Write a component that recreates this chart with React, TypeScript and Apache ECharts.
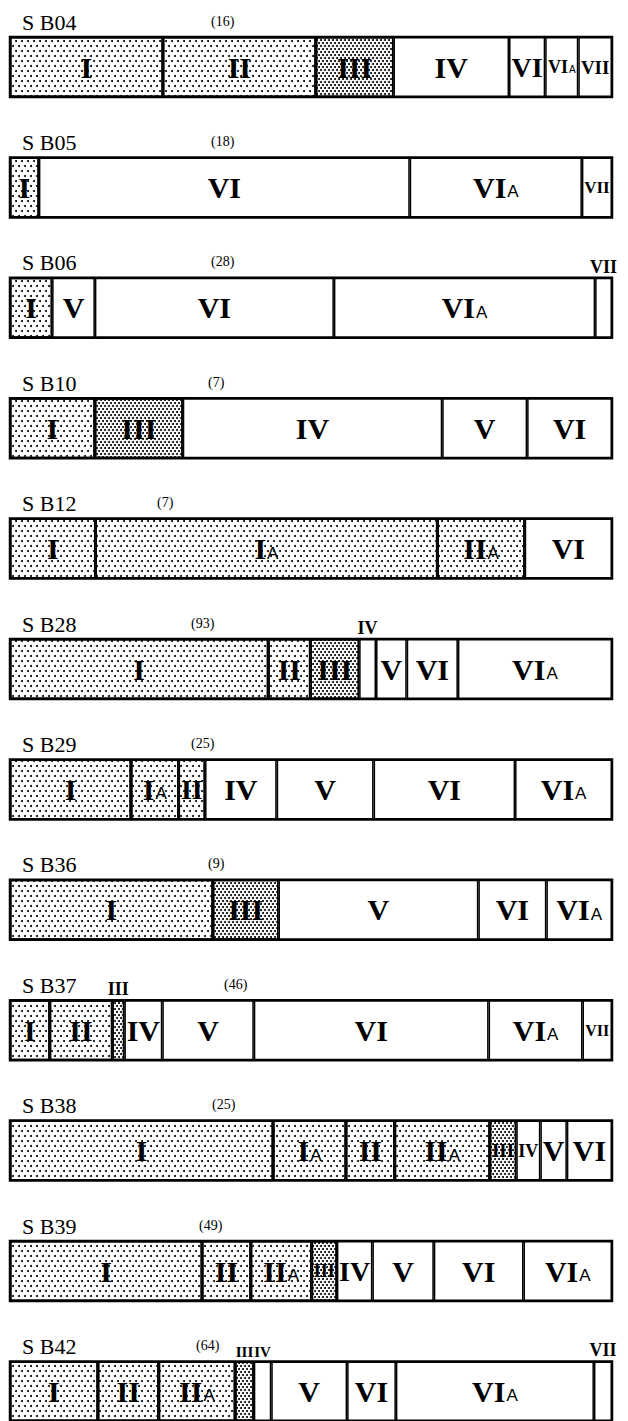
import React, { useEffect, useRef } from "react";
import * as echarts from "echarts";

// ---- data: zone sequence and share (% of the core length) for each site ----
const SB04_ZONES = ["I", "II", "III", "IV", "VI", "VIA", "VII"];
const SB04_SHARE = [25.4, 25.4, 12.9, 19.2, 6.0, 5.5, 5.6];
const SB05_ZONES = ["I", "VI", "VIA", "VII"];
const SB05_SHARE = [4.8, 61.6, 28.6, 5.0];
const SB06_ZONES = ["I", "V", "VI", "VIA", "VII"];
const SB06_SHARE = [7.0, 7.1, 39.7, 43.4, 2.8];
const SB10_ZONES = ["I", "III", "IV", "V", "VI"];
const SB10_SHARE = [14.1, 14.6, 43.1, 14.1, 14.1];
const SB12_ZONES = ["I", "IA", "IIA", "VI"];
const SB12_SHARE = [14.2, 56.8, 14.5, 14.5];
const SB28_ZONES = ["I", "II", "III", "IV", "V", "VI", "VIA"];
const SB28_SHARE = [42.9, 7.0, 8.1, 2.8, 5.1, 8.5, 25.6];
const SB29_ZONES = ["I", "IA", "II", "IV", "V", "VI", "VIA"];
const SB29_SHARE = [20.1, 7.9, 4.4, 11.9, 16.1, 23.5, 16.1];
const SB36_ZONES = ["I", "III", "V", "VI", "VIA"];
const SB36_SHARE = [33.7, 10.9, 33.2, 11.3, 10.9];
const SB37_ZONES = ["I", "II", "III", "IV", "V", "VI", "VIA", "VII"];
const SB37_SHARE = [6.6, 10.4, 2.0, 6.3, 15.2, 39.0, 15.6, 4.9];
const SB38_ZONES = ["I", "IA", "II", "IIA", "III", "IV", "V", "VI"];
const SB38_SHARE = [43.7, 12.1, 8.1, 15.8, 4.4, 4.0, 4.4, 7.5];
const SB39_ZONES = ["I", "II", "IIA", "III", "IV", "V", "VI", "VIA"];
const SB39_SHARE = [31.9, 8.1, 10.1, 4.2, 5.9, 10.2, 14.9, 14.7];
const SB42_ZONES = ["I", "II", "IIA", "III", "IV", "V", "VI", "VIA", "VII"];
const SB42_SHARE = [14.6, 10.1, 12.7, 3.1, 2.9, 12.6, 8.1, 32.9, 3.0];

const SITES = ["S B04", "S B05", "S B06", "S B10", "S B12", "S B28", "S B29", "S B36", "S B37", "S B38", "S B39", "S B42"];
const COUNTS = ["(16)", "(18)", "(28)", "(7)", "(7)", "(93)", "(25)", "(9)", "(46)", "(25)", "(49)", "(64)"];
const ZONES = [SB04_ZONES, SB05_ZONES, SB06_ZONES, SB10_ZONES, SB12_ZONES, SB28_ZONES, SB29_ZONES, SB36_ZONES, SB37_ZONES, SB38_ZONES, SB39_ZONES, SB42_ZONES];
const SHARES = [SB04_SHARE, SB05_SHARE, SB06_SHARE, SB10_SHARE, SB12_SHARE, SB28_SHARE, SB29_SHARE, SB36_SHARE, SB37_SHARE, SB38_SHARE, SB39_SHARE, SB42_SHARE];

// ---- layout / style (not data) ----
const BAR_LEFT = 10;
const BAR_WIDTH = 602;
const FIRST_TOP = 37;
const ROW_STEP = 120.4;
const BAR_H = 60;
const COUNT_X = [206, 206, 206, 203, 152, 186, 186, 203, 219, 207, 194, 191];
// labels drawn above the bar (site index, zone index)
const ABOVE: Record<string, boolean> = { "2-4": true, "5-3": true, "8-2": true, "11-3": true, "11-4": true, "11-8": true };

const sparseDecal = {
  symbol: "circle",
  symbolSize: 1,
  dashArrayX: [[2, 4], [0, 3, 2, 1]],
  dashArrayY: [2, 3],
  color: "#000",
  backgroundColor: "#fff",
};
const denseDecal = {
  symbol: "circle",
  symbolSize: 1,
  dashArrayX: [[2, 2], [0, 2, 2, 0]],
  dashArrayY: [2, 1],
  color: "#000",
  backgroundColor: "#fff",
};

function decalFor(z: string) {
  if (z === "III") return denseDecal;
  if (z === "I" || z === "IA" || z === "II" || z === "IIA") return sparseDecal;
  return undefined;
}

function fmt(z: string) {
  if (z.length > 1 && z.endsWith("A")) return `{r|${z.slice(0, -1)}}{s|A}`;
  return `{r|${z}}`;
}

// approximate advance widths of Liberation Serif Bold glyphs (em units)
function emWidth(z: string) {
  let w = 0;
  for (const c of z) w += c === "V" ? 0.722 : c === "I" ? 0.389 : 0.5;
  return w;
}

function fontSizeFor(z: string, share: number, above: boolean, crowded: boolean) {
  if (above) return crowded ? 15 : 18;
  const segPx = (share / 100) * BAR_WIDTH - 4;
  return Math.max(12, Math.min(30, Math.floor(segPx / emWidth(z))));
}

export default function App() {
  const ref = useRef<HTMLDivElement>(null);
  useEffect(() => {
    if (!ref.current) return;
    const chart = echarts.init(ref.current, undefined, { renderer: "svg" });
    const grid: any[] = [];
    const xAxis: any[] = [];
    const yAxis: any[] = [];
    const series: any[] = [];
    const title: any[] = [];
    SITES.forEach((site, i) => {
      const top = FIRST_TOP + i * ROW_STEP;
      grid.push({ left: BAR_LEFT, width: BAR_WIDTH, top, height: BAR_H, show: true, borderColor: "#000", borderWidth: 2.5, backgroundColor: "#fff" });
      xAxis.push({ type: "value", gridIndex: i, min: 0, max: 100, show: false });
      yAxis.push({ type: "category", gridIndex: i, data: [site], show: false });
      title.push({ text: site, left: 17, top: top - 31, textStyle: { fontFamily: "Liberation Serif", fontWeight: "normal", fontSize: 22, color: "#000" } });
      title.push({ text: COUNTS[i], left: COUNT_X[i], top: top - 28, textStyle: { fontFamily: "Liberation Serif", fontWeight: "normal", fontSize: 14, color: "#000" } });
      ZONES[i].forEach((z, j) => {
        const share = SHARES[i][j];
        const above = !!ABOVE[`${i}-${j}`];
        const crowded = above && (!!ABOVE[`${i}-${j - 1}`] || !!ABOVE[`${i}-${j + 1}`]);
        const fs = fontSizeFor(z, share, above, crowded);
        series.push({
          type: "bar",
          name: `${site} ${z}`,
          xAxisIndex: i,
          yAxisIndex: i,
          stack: "row" + i,
          barWidth: "100%",
          silent: true,
          data: [share],
          itemStyle: { color: "#fff", borderColor: "#000", borderWidth: 1.5, decal: decalFor(z) },
          label: {
            show: true,
            position: above ? "top" : "inside",
            distance: 2,
            formatter: fmt(z),
            rich: {
              r: { fontFamily: "Liberation Serif", fontWeight: "bold", fontSize: fs, color: "#000" },
              s: { fontFamily: "Liberation Sans", fontSize: Math.max(9, Math.round(fs * 0.55)), color: "#000", padding: [Math.round(fs * 0.3), 0, 0, 1] },
            },
          },
        });
      });
    });
    chart.setOption({ animation: false, backgroundColor: "#fff", title, grid, xAxis, yAxis, series });
    return () => chart.dispose();
  }, []);
  return <div ref={ref} style={{ position: "absolute", left: 0, top: 0, width: 628, height: 1421 }} />;
}
